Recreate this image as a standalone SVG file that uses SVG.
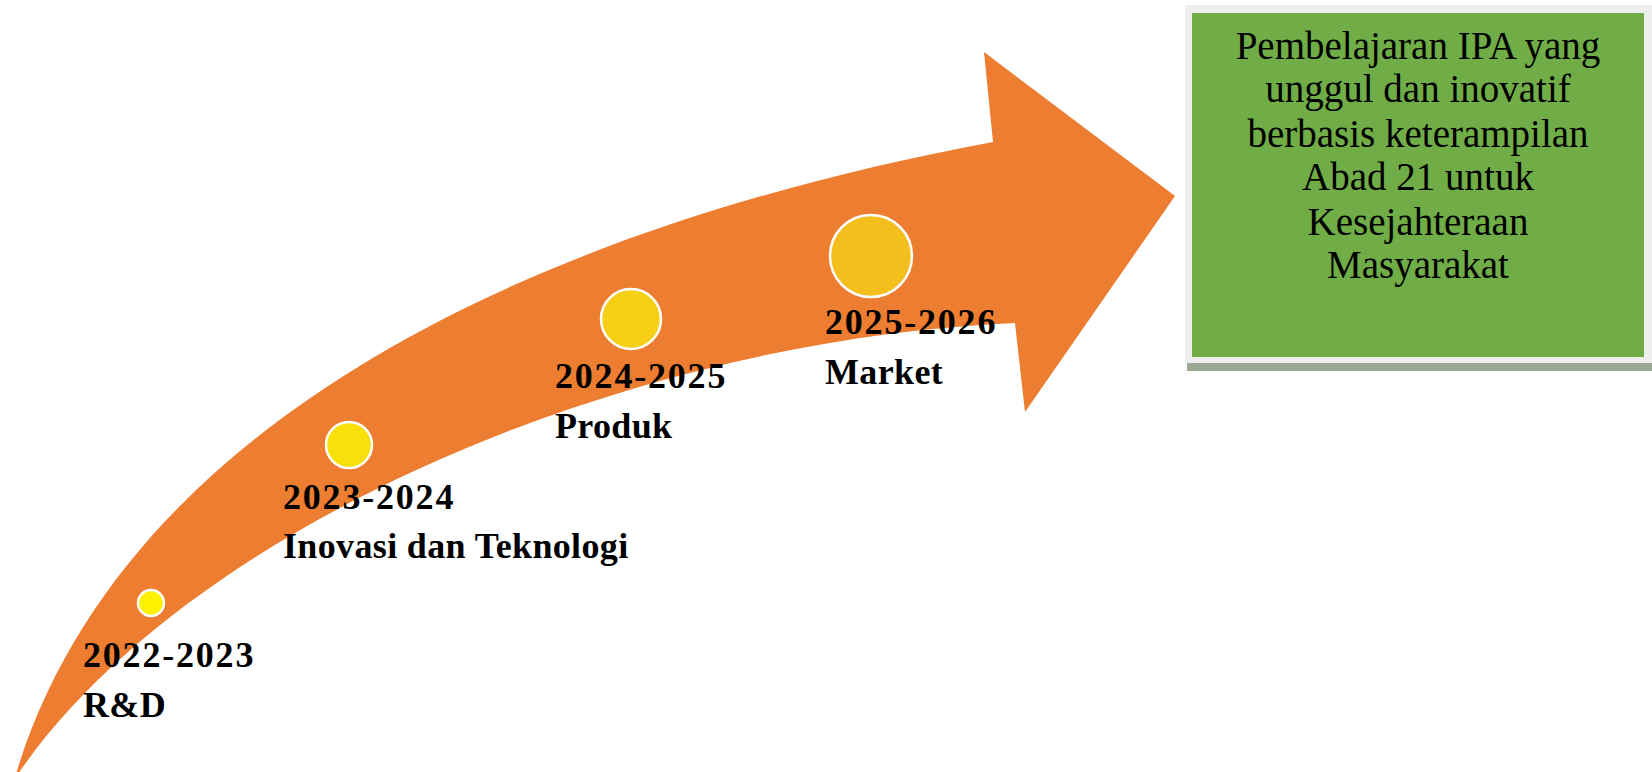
<svg xmlns="http://www.w3.org/2000/svg" width="1652" height="772" viewBox="0 0 1652 772">
  <style>
    .lbl { font-family: "Liberation Serif", "Times New Roman", serif; font-weight: bold; font-size: 36px; fill: #000; letter-spacing: 0.35px; }
    .yr { letter-spacing: 1.8px; }
    .goal { font-family: "Liberation Serif", "Times New Roman", serif; font-size: 39px; fill: #000; text-anchor: middle; }
    .dot { stroke: #FFFFFF; stroke-width: 2.5; }
  </style>
  <rect width="1652" height="772" fill="#FFFFFF"/>
  <g id="connectors">
    <path id="growth-arrow" fill="#ED7D31" d="M16,774 C120,430 520,230 993,142 L984,52 L1175,196 L1025,412 L1015,323 C620,340 185,530 18,774 Z"/>
  </g>
  <g id="goal">
    <rect x="1187" y="363" width="465" height="8" fill="#9DAA92"/>
    <rect x="1185" y="5" width="467" height="358" fill="#EFEFEF"/>
    <rect x="1192" y="13" width="452" height="344" fill="#70AD47"/>
    <text class="goal" x="1418" y="59">Pembelajaran IPA yang</text>
    <text class="goal" x="1418" y="102">unggul dan inovatif</text>
    <text class="goal" x="1418" y="147">berbasis keterampilan</text>
    <text class="goal" x="1418" y="190">Abad 21 untuk</text>
    <text class="goal" x="1418" y="235">Kesejahteraan</text>
    <text class="goal" x="1418" y="278">Masyarakat</text>
  </g>
  <g id="stage-2022">
    <circle class="dot" cx="151" cy="603" r="13" fill="#FFF200"/>
    <text class="lbl yr" x="83" y="667">2022-2023</text>
    <text class="lbl" x="83" y="717">R&amp;D</text>
  </g>
  <g id="stage-2023">
    <circle class="dot" cx="349" cy="445" r="23" fill="#F9E00B"/>
    <text class="lbl yr" x="283" y="509">2023-2024</text>
    <text class="lbl" x="283" y="558">Inovasi dan Teknologi</text>
  </g>
  <g id="stage-2024">
    <circle class="dot" cx="631" cy="319" r="30" fill="#F7CF16"/>
    <text class="lbl yr" x="555" y="388">2024-2025</text>
    <text class="lbl" x="555" y="438">Produk</text>
  </g>
  <g id="stage-2025">
    <circle class="dot" cx="871" cy="256" r="41" fill="#F4BE1C"/>
    <text class="lbl yr" x="825" y="334">2025-2026</text>
    <text class="lbl" x="825" y="384">Market</text>
  </g>
</svg>
